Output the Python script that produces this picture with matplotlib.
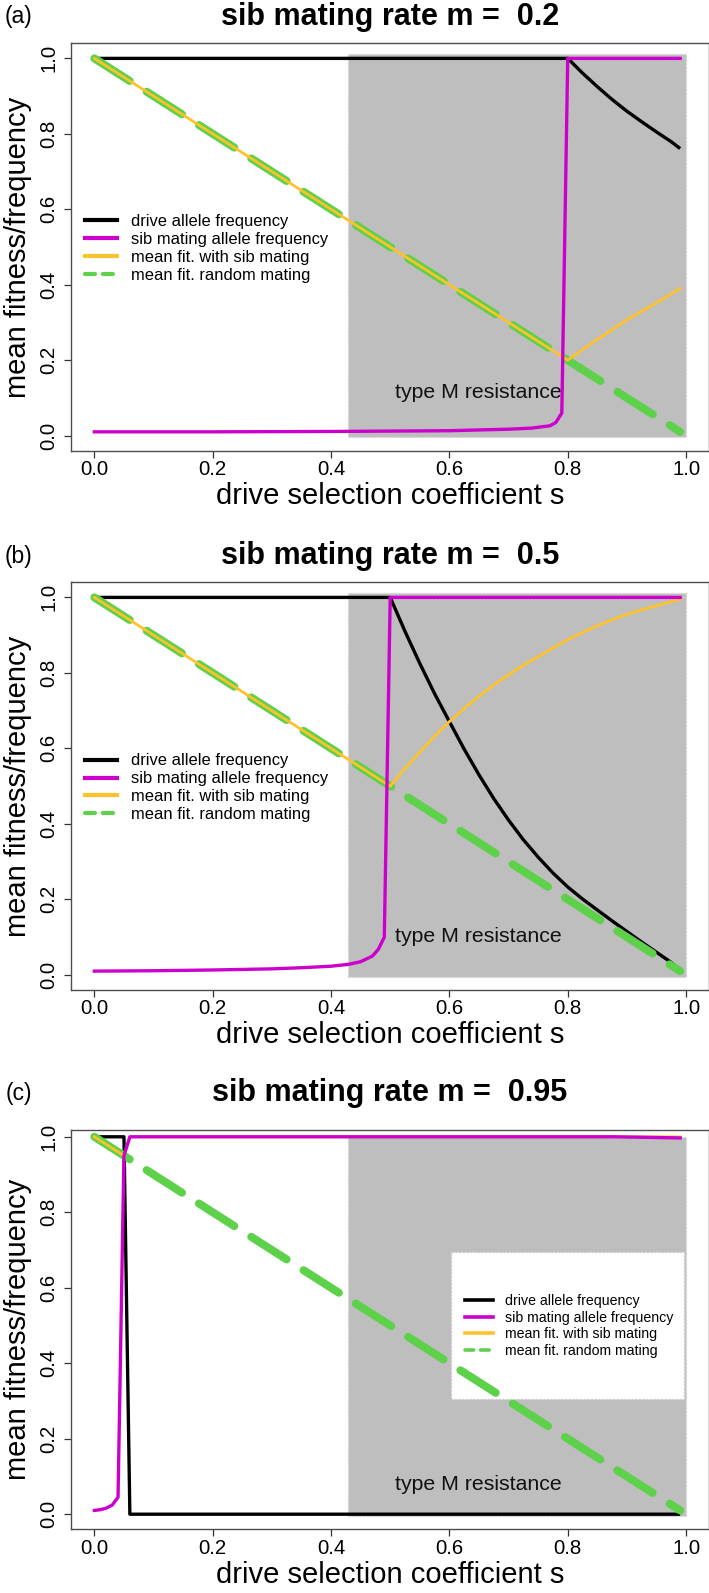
import numpy as np
import matplotlib.pyplot as plt
from matplotlib.lines import Line2D
from matplotlib.patches import Rectangle

plt.rcParams['font.family'] = ['Liberation Sans', 'DejaVu Sans']

# data (s = drive selection coefficient)
s_rand = [0.0, 0.99]
rand_fit = [1.0, 0.01]

# (a) m = 0.2
s_drive_a = [0.0, 0.80, 0.825, 0.85, 0.875, 0.90, 0.925, 0.95, 0.975, 0.99]
drive_a = [1.0, 1.0, 0.961, 0.925, 0.891, 0.86, 0.832, 0.805, 0.779, 0.761]
s_sib_a = [0.0, 0.2, 0.4, 0.6, 0.7, 0.74, 0.77, 0.78, 0.79, 0.80, 0.99]
sib_a = [0.01, 0.01, 0.011, 0.013, 0.017, 0.02, 0.026, 0.035, 0.06, 1.0, 1.0]
s_fit_a = [0.0, 0.80, 0.85, 0.90, 0.95, 0.99]
fit_a = [1.0, 0.2, 0.255, 0.307, 0.352, 0.39]

# (b) m = 0.5
s_drive_b = [0.0, 0.50, 0.525, 0.55, 0.575, 0.60, 0.625, 0.65, 0.675, 0.70, 0.725, 0.75,
             0.775, 0.80, 0.825, 0.85, 0.875, 0.90, 0.925, 0.95, 0.975, 0.99]
drive_b = [1.0, 1.0, 0.91, 0.825, 0.745, 0.671, 0.598, 0.53, 0.467, 0.41, 0.358, 0.312,
           0.27, 0.233, 0.201, 0.172, 0.143, 0.115, 0.087, 0.06, 0.033, 0.012]
s_sib_b = [0.0, 0.1, 0.2, 0.3, 0.35, 0.40, 0.43, 0.45, 0.47, 0.48, 0.49, 0.50, 0.99]
sib_b = [0.01, 0.011, 0.013, 0.016, 0.019, 0.023, 0.028, 0.035, 0.05, 0.068, 0.1, 1.0, 1.0]
s_fit_b = [0.0, 0.50, 0.525, 0.55, 0.575, 0.60, 0.625, 0.65, 0.675, 0.70, 0.725, 0.75,
           0.775, 0.80, 0.825, 0.85, 0.875, 0.90, 0.925, 0.95, 0.975, 0.99]
fit_b = [1.0, 0.5, 0.547, 0.59, 0.632, 0.671, 0.706, 0.738, 0.768, 0.795, 0.82, 0.843,
         0.866, 0.888, 0.907, 0.925, 0.941, 0.955, 0.967, 0.978, 0.989, 0.995]

# (c) m = 0.95
s_drive_c = [0.0, 0.05, 0.06, 0.99]
drive_c = [1.0, 1.0, 0.0, 0.0]
s_sib_c = [0.0, 0.01, 0.02, 0.03, 0.04, 0.05, 0.06, 0.88, 0.99]
sib_c = [0.01, 0.012, 0.016, 0.024, 0.045, 0.95, 1.0, 1.0, 0.997]
s_fit_c = [0.0, 0.05, 0.06, 0.99]
fit_c = [1.0, 0.95, 1.0, 1.0]

shade = (0.428, 1.0)
labels = ["drive allele frequency", "sib mating allele frequency",
          "mean fit. with sib mating", "mean fit. random mating"]

BLACK = 'black'
MAG = '#cc00cc'
ORANGE = '#fdc22c'
GREEN = '#5ed14a'

W, H = 709, 1593
fig = plt.figure(figsize=(W / 100, H / 100), dpi=100)

X0 = 70.7
X1 = 708.5
XU = 591.7  # px per unit s


def add_ax(top, bottom):
    return fig.add_axes([X0 / W, 1 - bottom / H, (X1 - X0) / W, (bottom - top) / H])


panels = [
    dict(tag='(a)', m='0.2', top=43.3, bot=450.7, ytop=1.04, ty=16.7, txt_y=0.115,
         drive=(s_drive_a, drive_a), sib=(s_sib_a, sib_a), fit=(s_fit_a, fit_a)),
    dict(tag='(b)', m='0.5', top=582.3, bot=990.0, ytop=1.04, ty=556.0, txt_y=0.102,
         drive=(s_drive_b, drive_b), sib=(s_sib_b, sib_b), fit=(s_fit_b, fit_b)),
    dict(tag='(c)', m='0.95', top=1130.0, bot=1529.3, ytop=1.018, ty=1093.3, txt_y=0.08,
         drive=(s_drive_c, drive_c), sib=(s_sib_c, sib_c), fit=(s_fit_c, fit_c)),
]

for i, p in enumerate(panels):
    ax = add_ax(p['top'], p['bot'])
    ax.set_xlim(-0.04, -0.04 + (X1 - X0) / XU)
    ax.set_ylim(-0.04, p['ytop'])

    ytop_rect = 1.012 if i < 2 else 1.0
    ax.add_patch(Rectangle((shade[0], -0.005), shade[1] - shade[0], ytop_rect + 0.005,
                           facecolor='#bebebe', edgecolor='#d4d4d4', ls=':', lw=1, zorder=1))
    ax.text(0.649, p['txt_y'], 'type M resistance', fontsize=15.3, ha='center',
            va='center', color='#111111', zorder=1.6)

    ax.plot(*p['drive'], color=BLACK, lw=2.4, zorder=2, solid_capstyle='butt')
    ax.plot(s_rand, rand_fit, color=GREEN, lw=5.8, dashes=(5.2, 2.5),
            dash_capstyle='round', zorder=3)
    ax.plot(*p['fit'], color=ORANGE, lw=2.0, zorder=4)
    ax.plot(*p['sib'], color=MAG, lw=2.4, zorder=5)

    ax.set_xticks([0, 0.2, 0.4, 0.6, 0.8, 1.0])
    ax.set_xticklabels(['0.0', '0.2', '0.4', '0.6', '0.8', '1.0'])
    ax.set_yticks([0, 0.2, 0.4, 0.6, 0.8, 1.0])
    ax.set_yticklabels(['0.0', '0.2', '0.4', '0.6', '0.8', '1.0'], rotation=90, va='center')
    ax.tick_params(axis='both', direction='out', length=5, width=0.9, color='#333333',
                   labelsize=14.7)
    ax.tick_params(axis='x', pad=1.7)
    ax.tick_params(axis='y', pad=4)
    for sp in ax.spines.values():
        sp.set_color('#4d4d4d')
        sp.set_linewidth(1.0)

    # legend
    if i < 2:
        fs, hl, hp, lx, ly = 11.9, 1.92, 0.85, 0.0224, 0.496
        lw_leg = 3.0
    else:
        fs, hl, hp, lx, ly = 10.2, 2.0, 0.83, 0.618, 0.509
        lw_leg = 2.6
        ax.add_patch(Rectangle((0.602, 0.304), 0.395, 0.391, facecolor='white',
                               edgecolor='#c8c8c8', ls=':', lw=1, zorder=1.5))
    handles = [Line2D([], [], color=BLACK, lw=lw_leg),
               Line2D([], [], color=MAG, lw=lw_leg),
               Line2D([], [], color=ORANGE, lw=lw_leg),
               Line2D([], [], color=GREEN, lw=lw_leg, dashes=(2.4, 1.9),
                      dash_capstyle='round')]
    leg = ax.legend(handles, labels, loc='center left', bbox_to_anchor=(lx, ly),
                    frameon=False, fontsize=fs, handlelength=hl, handletextpad=hp,
                    labelspacing=0.18, borderpad=0, borderaxespad=0)
    leg.set_zorder(10)

    # titles and labels
    fig.text(19 / W, 1 - p['ty'] / H, p['tag'], fontsize=16.5, ha='center', va='center')
    fig.text(389.9 / W, 1 - p['ty'] / H, 'sib mating rate m =  ' + p['m'],
             fontsize=22, fontweight='bold', ha='center', va='center')
    fig.text(389.9 / W, 1 - (p['bot'] + 53.3) / H, 'drive selection coefficient s',
             fontsize=21, ha='center', va='baseline')
    yc = (p['top'] + p['bot']) / 2
    fig.text(18 / W, 1 - yc / H, 'mean fitness/frequency', fontsize=21, rotation=90,
             ha='center', va='center')

fig.savefig('out.png', dpi=100)
